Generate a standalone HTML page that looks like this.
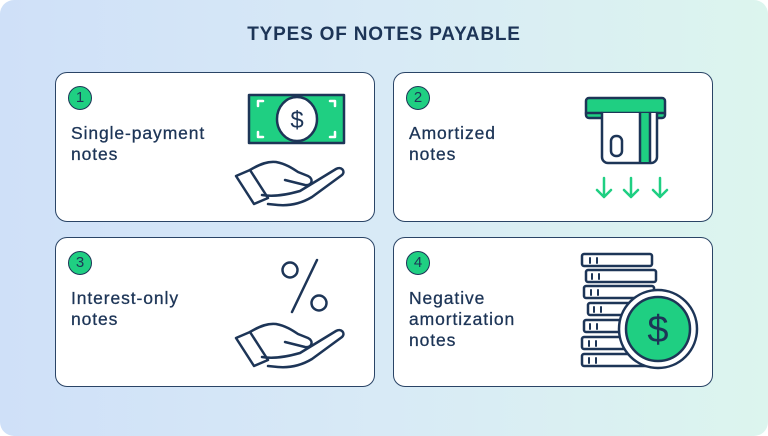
<!DOCTYPE html>
<html><head><style>
body{margin:0;width:768px;height:436px;overflow:hidden;background:#fff;font-family:"Liberation Sans",sans-serif}
.bg{position:absolute;left:0;top:0;width:768px;height:436px;border-radius:14px;background:linear-gradient(90deg,#cfe0f8 0%,#d8eaf6 50%,#dcf5ee 100%)}
h1{position:absolute;top:24px;left:0;width:768px;text-align:center;margin:0;font-size:19px;font-weight:bold;color:#1d3557;letter-spacing:0.8px}
.card{position:absolute;width:320px;height:150px;background:#fff;border:1.5px solid #2a4466;border-radius:12px;box-sizing:border-box}
.n{position:absolute;left:12px;top:13px;width:24px;height:24px;border-radius:50%;background:#1fcf82;border:1.5px solid #1d3557;box-sizing:border-box;text-align:center;line-height:22px;font-size:15px;color:#1d3557}
.t{position:absolute;left:15px;top:50px;font-size:17.5px;line-height:21px;color:#1d3557;letter-spacing:0.9px;-webkit-text-stroke:0.3px #1d3557}
svg{position:absolute}
</style></head><body>
<div class="bg"></div>
<h1>TYPES OF NOTES PAYABLE</h1>
<div class="card" style="left:55px;top:72px"><div class="n">1</div><div class="t">Single-payment<br>notes</div></div>
<div class="card" style="left:393px;top:72px"><div class="n">2</div><div class="t">Amortized<br>notes</div></div>
<div class="card" style="left:55px;top:237px"><div class="n">3</div><div class="t">Interest-only<br>notes</div></div>
<div class="card" style="left:393px;top:237px"><div class="n">4</div><div class="t">Negative<br>amortization<br>notes</div></div>
<svg width="768" height="436" style="left:0;top:0" fill="none" stroke="#1d3557" stroke-width="2.5" stroke-linecap="round" stroke-linejoin="round">
<rect x="249" y="95" width="95" height="48" fill="#1fcf82"/>
<path d="M258 106v-5h5M258 132v5h5M335 106v-5h-5M335 132v5h-5" stroke="#fff"/>
<ellipse cx="297" cy="119" rx="20" ry="22" fill="#fff"/>
<text x="297" y="128" text-anchor="middle" font-size="24" fill="#1d3557" stroke="none" font-family="Liberation Sans">$</text>
<g id="hand"><path d="M236 176l14-6 18 28-14 6z"/><path d="M250 170c10-6 18-9 26-8 10 2 16 6 22 10l10 4c6 3 4 10-3 9l-20-5"/><path d="M262 195c12 2 24 0 38-4l36-22c5-3 10 2 6 6l-30 22c-10 6-22 9-34 8l-10-1"/></g>
<use href="#hand" y="162"/>
<circle cx="290" cy="270" r="7.5"/><circle cx="319" cy="303" r="7.5"/><path d="M317 260l-25 52"/>
<rect x="586" y="98" width="79" height="20" rx="3" fill="#1fcf82"/>
<path d="M586 113h78"/>
<path d="M602 113v44a6 6 0 0 0 6 6h43a6 6 0 0 0 6-6v-44" fill="#fff"/>
<rect x="640" y="113" width="10" height="49" fill="#1fcf82" stroke="none"/>
<path d="M640 113v49M650 113v49"/>
<rect x="611" y="136" width="11" height="20" rx="5"/>
<path d="M604 178v19M597 190l7 7 7-7M631 178v19M624 190l7 7 7-7M660 178v19M653 190l7 7 7-7" stroke="#1fcf82"/>
<g fill="#fff">
<rect x="582" y="354" width="70" height="12" rx="2"/>
<rect x="582" y="337" width="70" height="12" rx="2"/>
<rect x="584" y="320" width="70" height="12" rx="2"/>
<rect x="588" y="303" width="70" height="12" rx="2"/>
<rect x="584" y="286" width="70" height="12" rx="2"/>
<rect x="586" y="270" width="70" height="12" rx="2"/>
<rect x="582" y="254" width="70" height="12" rx="2"/>
</g>
<path d="M590 258v5M597 258v5M592 274v5M599 274v5M591 290v5M598 290v5M594 307v5M601 307v5M590 324v5M597 324v5M589 341v5M596 341v5M589 358v5M596 358v5" stroke-width="2"/>
<circle cx="658" cy="329" r="39" fill="#fff"/>
<circle cx="658" cy="329" r="32" fill="#1fcf82"/>
<text x="658" y="342" text-anchor="middle" font-size="38" fill="#1d3557" stroke="none" font-family="Liberation Sans">$</text>
</svg>
</body></html>
